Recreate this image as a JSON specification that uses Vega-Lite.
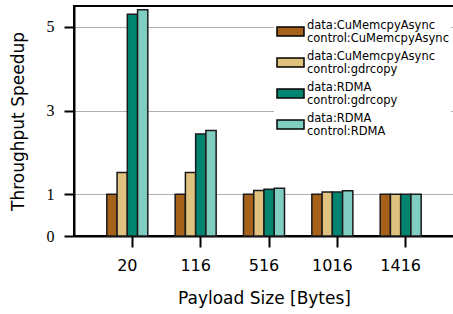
{
  "$schema": "https://vega.github.io/schema/vega-lite/v6.json",
  "width": 380,
  "height": 230,
  "autosize": "none",
  "padding": {"left": 74, "top": 6, "right": 0, "bottom": 78},
  "background": "white",
  "view": {"stroke": "black", "strokeWidth": 2},
  "data": {
    "values": [
      {"payload": "20", "series": "data:CuMemcpyAsync|control:CuMemcpyAsync", "speedup": 1.0},
      {"payload": "20", "series": "data:CuMemcpyAsync|control:gdrcopy", "speedup": 1.52},
      {"payload": "20", "series": "data:RDMA|control:gdrcopy", "speedup": 5.30},
      {"payload": "20", "series": "data:RDMA|control:RDMA", "speedup": 5.41},
      {"payload": "116", "series": "data:CuMemcpyAsync|control:CuMemcpyAsync", "speedup": 1.0},
      {"payload": "116", "series": "data:CuMemcpyAsync|control:gdrcopy", "speedup": 1.52},
      {"payload": "116", "series": "data:RDMA|control:gdrcopy", "speedup": 2.44},
      {"payload": "116", "series": "data:RDMA|control:RDMA", "speedup": 2.52},
      {"payload": "516", "series": "data:CuMemcpyAsync|control:CuMemcpyAsync", "speedup": 1.0},
      {"payload": "516", "series": "data:CuMemcpyAsync|control:gdrcopy", "speedup": 1.09},
      {"payload": "516", "series": "data:RDMA|control:gdrcopy", "speedup": 1.12},
      {"payload": "516", "series": "data:RDMA|control:RDMA", "speedup": 1.14},
      {"payload": "1016", "series": "data:CuMemcpyAsync|control:CuMemcpyAsync", "speedup": 1.0},
      {"payload": "1016", "series": "data:CuMemcpyAsync|control:gdrcopy", "speedup": 1.05},
      {"payload": "1016", "series": "data:RDMA|control:gdrcopy", "speedup": 1.05},
      {"payload": "1016", "series": "data:RDMA|control:RDMA", "speedup": 1.08},
      {"payload": "1416", "series": "data:CuMemcpyAsync|control:CuMemcpyAsync", "speedup": 1.0},
      {"payload": "1416", "series": "data:CuMemcpyAsync|control:gdrcopy", "speedup": 1.0},
      {"payload": "1416", "series": "data:RDMA|control:gdrcopy", "speedup": 1.0},
      {"payload": "1416", "series": "data:RDMA|control:RDMA", "speedup": 1.0}
    ]
  },
  "mark": {"type": "bar", "stroke": "#1a1a1a", "strokeWidth": 1.5},
  "encoding": {
    "x": {
      "field": "payload",
      "type": "nominal",
      "sort": ["20", "116", "516", "1016", "1416"],
      "scale": {"paddingInner": 0.4, "paddingOuter": 0.48},
      "title": "Payload Size [Bytes]",
      "axis": {
        "labelAngle": 0,
        "bandPosition": 0.625,
        "tickSize": 11,
        "tickWidth": 2,
        "tickColor": "black",
        "domainColor": "black",
        "domainWidth": 2,
        "labelFont": "DejaVu Sans",
        "labelFontSize": 16,
        "labelColor": "black",
        "labelPadding": 10,
        "titleFont": "DejaVu Sans",
        "titleFontSize": 17,
        "titleFontWeight": "normal",
        "titleColor": "black",
        "titlePadding": 17
      }
    },
    "xOffset": {
      "field": "series",
      "type": "nominal",
      "sort": ["data:CuMemcpyAsync|control:CuMemcpyAsync", "data:CuMemcpyAsync|control:gdrcopy", "data:RDMA|control:gdrcopy", "data:RDMA|control:RDMA"],
      "scale": {"paddingInner": 0, "paddingOuter": 0}
    },
    "y": {
      "field": "speedup",
      "type": "quantitative",
      "scale": {"domain": [0, 5.5], "nice": false},
      "title": "Throughput Speedup",
      "axis": {
        "values": [0, 1, 3, 5],
        "titleFont": "DejaVu Sans",
        "titleFontSize": 17,
        "titleFontWeight": "normal",
        "titleColor": "black",
        "titlePadding": 19,
        "labelFont": "Liberation Serif",
        "labelFontSize": 16,
        "labelColor": "black",
        "labelPadding": 10,
        "tickSize": 10,
        "tickWidth": 2,
        "tickColor": "black",
        "domainColor": "black",
        "domainWidth": 2,
        "gridColor": "#b0b0b0",
        "gridWidth": 1
      }
    },
    "color": {
      "field": "series",
      "type": "nominal",
      "scale": {
        "domain": ["data:CuMemcpyAsync|control:CuMemcpyAsync", "data:CuMemcpyAsync|control:gdrcopy", "data:RDMA|control:gdrcopy", "data:RDMA|control:RDMA"],
        "range": ["#a6611a", "#dfc27d", "#018571", "#80cdc1"]
      },
      "legend": {
        "orient": "none",
        "legendX": 200,
        "legendY": 9,
        "title": null,
        "fillColor": "white",
        "padding": 2,
        "symbolType": "M-1,-0.333H1V0.333H-1Z",
        "symbolSize": 729,
        "symbolStrokeColor": "black",
        "symbolStrokeWidth": 1.5,
        "symbolOpacity": 1,
        "labelFont": "DejaVu Sans",
        "labelFontSize": 11.5,
        "labelColor": "black",
        "labelBaseline": "line-bottom",
        "labelExpr": "split(datum.label, '|')",
        "labelOffset": 2,
        "labelLimit": 300,
        "rowPadding": 3
      }
    }
  }
}
